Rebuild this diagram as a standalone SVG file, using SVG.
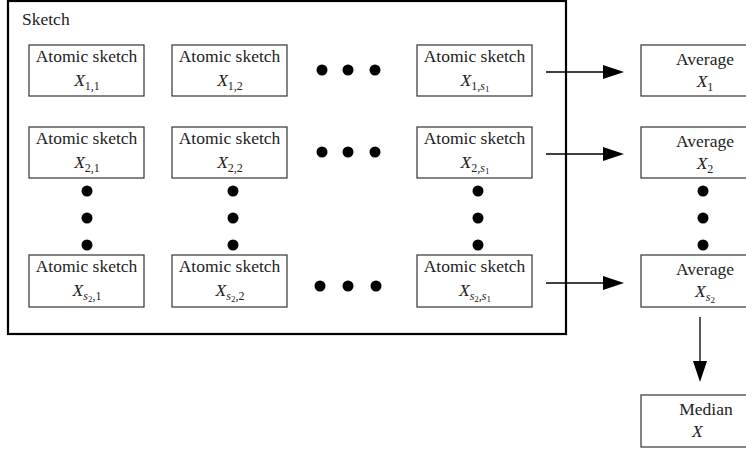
<svg xmlns="http://www.w3.org/2000/svg" width="746" height="449" viewBox="0 0 746 449">
<style>
.box{fill:#fff;stroke:#333;stroke-width:1.2}
.dot{fill:#000}
.ln{stroke:#000;stroke-width:1.3;fill:none}
.hd{fill:#000}
</style>
<rect x="8" y="1" width="558" height="333" fill="none" stroke="#000" stroke-width="2.2"/>
<text font-family="'Liberation Serif', 'Times New Roman', serif" font-size="17.5" fill="#222" x="22" y="25">Sketch</text>
<g id="a11"><rect class="box" x="29" y="45" width="115" height="51"/><text font-family="'Liberation Serif', 'Times New Roman', serif" font-size="17.5" fill="#222" x="86.5" y="62" text-anchor="middle">Atomic sketch</text><text font-family="'Liberation Serif', 'Times New Roman', serif" font-size="17.5" fill="#222" x="87" y="86" text-anchor="middle"><tspan font-style="italic">X</tspan><tspan font-size="12" dy="4">1,1</tspan></text></g>
<g id="a12"><rect class="box" x="172" y="45" width="115" height="51"/><text font-family="'Liberation Serif', 'Times New Roman', serif" font-size="17.5" fill="#222" x="229.5" y="62" text-anchor="middle">Atomic sketch</text><text font-family="'Liberation Serif', 'Times New Roman', serif" font-size="17.5" fill="#222" x="230" y="86" text-anchor="middle"><tspan font-style="italic">X</tspan><tspan font-size="12" dy="4">1,2</tspan></text></g>
<g id="a1s"><rect class="box" x="417" y="45" width="115" height="51"/><text font-family="'Liberation Serif', 'Times New Roman', serif" font-size="17.5" fill="#222" x="474.5" y="62" text-anchor="middle">Atomic sketch</text><text font-family="'Liberation Serif', 'Times New Roman', serif" font-size="17.5" fill="#222" x="475" y="86" text-anchor="middle"><tspan font-style="italic">X</tspan><tspan font-size="12" dy="4">1,</tspan><tspan font-size="12" font-style="italic">s</tspan><tspan font-size="9" dy="2">1</tspan></text></g>
<g id="a21"><rect class="box" x="29" y="127" width="115" height="51"/><text font-family="'Liberation Serif', 'Times New Roman', serif" font-size="17.5" fill="#222" x="86.5" y="144" text-anchor="middle">Atomic sketch</text><text font-family="'Liberation Serif', 'Times New Roman', serif" font-size="17.5" fill="#222" x="87" y="168" text-anchor="middle"><tspan font-style="italic">X</tspan><tspan font-size="12" dy="4">2,1</tspan></text></g>
<g id="a22"><rect class="box" x="172" y="127" width="115" height="51"/><text font-family="'Liberation Serif', 'Times New Roman', serif" font-size="17.5" fill="#222" x="229.5" y="144" text-anchor="middle">Atomic sketch</text><text font-family="'Liberation Serif', 'Times New Roman', serif" font-size="17.5" fill="#222" x="230" y="168" text-anchor="middle"><tspan font-style="italic">X</tspan><tspan font-size="12" dy="4">2,2</tspan></text></g>
<g id="a2s"><rect class="box" x="417" y="127" width="115" height="51"/><text font-family="'Liberation Serif', 'Times New Roman', serif" font-size="17.5" fill="#222" x="474.5" y="144" text-anchor="middle">Atomic sketch</text><text font-family="'Liberation Serif', 'Times New Roman', serif" font-size="17.5" fill="#222" x="475" y="168" text-anchor="middle"><tspan font-style="italic">X</tspan><tspan font-size="12" dy="4">2,</tspan><tspan font-size="12" font-style="italic">s</tspan><tspan font-size="9" dy="2">1</tspan></text></g>
<g id="as1"><rect class="box" x="29" y="255" width="115" height="52"/><text font-family="'Liberation Serif', 'Times New Roman', serif" font-size="17.5" fill="#222" x="86.5" y="272" text-anchor="middle">Atomic sketch</text><text font-family="'Liberation Serif', 'Times New Roman', serif" font-size="17.5" fill="#222" x="87" y="296" text-anchor="middle"><tspan font-style="italic">X</tspan><tspan font-size="12" font-style="italic" dy="4">s</tspan><tspan font-size="9" dy="2">2</tspan><tspan font-size="12" dy="-2">,1</tspan></text></g>
<g id="as2"><rect class="box" x="172" y="255" width="115" height="52"/><text font-family="'Liberation Serif', 'Times New Roman', serif" font-size="17.5" fill="#222" x="229.5" y="272" text-anchor="middle">Atomic sketch</text><text font-family="'Liberation Serif', 'Times New Roman', serif" font-size="17.5" fill="#222" x="230" y="296" text-anchor="middle"><tspan font-style="italic">X</tspan><tspan font-size="12" font-style="italic" dy="4">s</tspan><tspan font-size="9" dy="2">2</tspan><tspan font-size="12" dy="-2">,2</tspan></text></g>
<g id="ass"><rect class="box" x="417" y="255" width="115" height="52"/><text font-family="'Liberation Serif', 'Times New Roman', serif" font-size="17.5" fill="#222" x="474.5" y="272" text-anchor="middle">Atomic sketch</text><text font-family="'Liberation Serif', 'Times New Roman', serif" font-size="17.5" fill="#222" x="475" y="296" text-anchor="middle"><tspan font-style="italic">X</tspan><tspan font-size="12" font-style="italic" dy="4">s</tspan><tspan font-size="9" dy="2">2</tspan><tspan font-size="12" dy="-2">,</tspan><tspan font-size="12" font-style="italic">s</tspan><tspan font-size="9" dy="2">1</tspan></text></g>
<g id="avg1"><rect class="box" x="641" y="45" width="120" height="51"/><text font-family="'Liberation Serif', 'Times New Roman', serif" font-size="17.5" fill="#222" x="705" y="65" text-anchor="middle">Average</text><text font-family="'Liberation Serif', 'Times New Roman', serif" font-size="17.5" fill="#222" x="705" y="87" text-anchor="middle"><tspan font-style="italic">X</tspan><tspan font-size="12" dy="4">1</tspan></text></g>
<g id="avg2"><rect class="box" x="641" y="127" width="120" height="51"/><text font-family="'Liberation Serif', 'Times New Roman', serif" font-size="17.5" fill="#222" x="705" y="147" text-anchor="middle">Average</text><text font-family="'Liberation Serif', 'Times New Roman', serif" font-size="17.5" fill="#222" x="705" y="169" text-anchor="middle"><tspan font-style="italic">X</tspan><tspan font-size="12" dy="4">2</tspan></text></g>
<g id="avgs"><rect class="box" x="641" y="255" width="120" height="52"/><text font-family="'Liberation Serif', 'Times New Roman', serif" font-size="17.5" fill="#222" x="705" y="275" text-anchor="middle">Average</text><text font-family="'Liberation Serif', 'Times New Roman', serif" font-size="17.5" fill="#222" x="705" y="297" text-anchor="middle"><tspan font-style="italic">X</tspan><tspan font-size="12" font-style="italic" dy="4">s</tspan><tspan font-size="9" dy="2">2</tspan></text></g>
<g id="median"><rect class="box" x="641" y="395" width="120" height="52"/><text font-family="'Liberation Serif', 'Times New Roman', serif" font-size="17.5" fill="#222" x="706" y="415" text-anchor="middle">Median</text><text font-family="'Liberation Serif', 'Times New Roman', serif" font-size="17.5" fill="#222" font-style="italic" x="692" y="437">X</text></g>
<g id="dots">
<circle class="dot" cx="322" cy="70" r="5.5"/><circle class="dot" cx="348" cy="70" r="5.5"/><circle class="dot" cx="375" cy="70" r="5.5"/>
<circle class="dot" cx="322" cy="152" r="5.5"/><circle class="dot" cx="348" cy="152" r="5.5"/><circle class="dot" cx="375" cy="152" r="5.5"/>
<circle class="dot" cx="320" cy="286" r="5.5"/><circle class="dot" cx="348" cy="286" r="5.5"/><circle class="dot" cx="376" cy="286" r="5.5"/>
<circle class="dot" cx="87" cy="191" r="5.5"/><circle class="dot" cx="87" cy="218" r="5.5"/><circle class="dot" cx="87" cy="245" r="5.5"/>
<circle class="dot" cx="233" cy="191" r="5.5"/><circle class="dot" cx="233" cy="218" r="5.5"/><circle class="dot" cx="233" cy="245" r="5.5"/>
<circle class="dot" cx="478" cy="191" r="5.5"/><circle class="dot" cx="478" cy="218" r="5.5"/><circle class="dot" cx="478" cy="245" r="5.5"/>
<circle class="dot" cx="703" cy="191" r="5.5"/><circle class="dot" cx="703" cy="218" r="5.5"/><circle class="dot" cx="703" cy="245" r="5.5"/>
</g>
<g id="connectors">
<line class="ln" x1="546" y1="72" x2="604" y2="72"/><path class="hd" d="M603,65 L624,72 L603,79 Z"/>
<line class="ln" x1="546" y1="154" x2="604" y2="154"/><path class="hd" d="M603,147 L624,154 L603,161 Z"/>
<line class="ln" x1="546" y1="283" x2="604" y2="283"/><path class="hd" d="M603,276 L624,283 L603,290 Z"/>
<line class="ln" x1="700" y1="317" x2="700" y2="362"/><path class="hd" d="M693,361 L700,382 L707,361 Z"/>
</g>
</svg>
